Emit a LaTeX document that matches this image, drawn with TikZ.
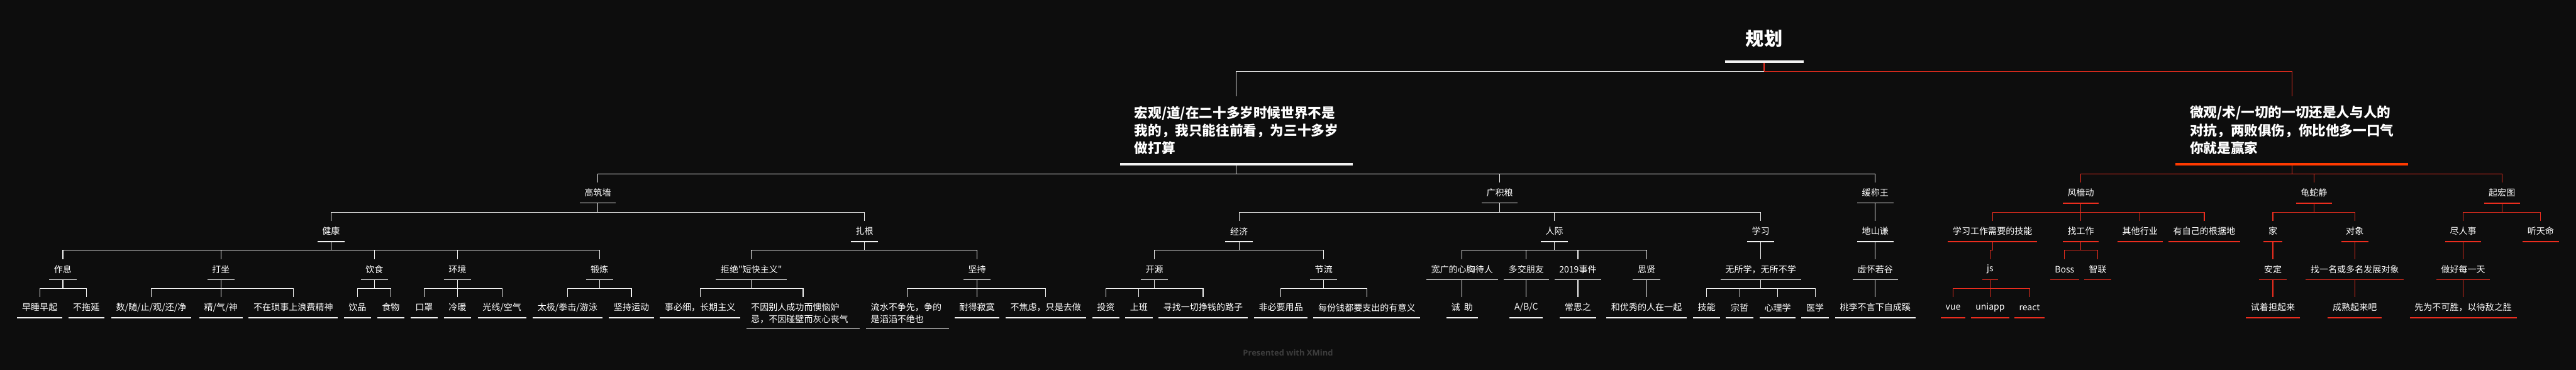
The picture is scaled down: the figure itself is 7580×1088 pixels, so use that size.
\documentclass[tikz,border=0pt]{standalone}
\usepackage{fontspec}
\newfontfamily\cjkf{Noto Sans CJK SC}
\newfontfamily\wmf{Open Sans}
\definecolor{bgc}{HTML}{0D0D0D}
\definecolor{wline}{HTML}{F2F2F2}
\definecolor{rline}{HTML}{EC2D1E}
\definecolor{rthick}{HTML}{FF3A00}
\definecolor{wmgray}{HTML}{3D3D3D}
\tikzset{
  topic/.style={font=\cjkf\fontsize{26pt}{35pt}\selectfont, text=white, inner xsep=14pt, inner ysep=0pt, minimum height=60pt, anchor=north},
  ttwo/.style={topic, minimum height=93pt, text width=#1, align=left},
  bigtopic/.style={font=\cjkf\bfseries\fontsize{40pt}{52pt}\selectfont, text=white, inner xsep=42pt, inner ysep=0pt, minimum height=200pt, text width=600pt, align=left, anchor=south},
  roottopic/.style={font=\cjkf\bfseries\fontsize{54pt}{60pt}\selectfont, text=white, inner sep=0pt, minimum width=231pt, minimum height=136pt},
  wc/.style={draw=wline, line width=2.2pt},
  rc/.style={draw=rline, line width=2.3pt},
  wu/.style={draw=wline, line width=2.4pt},
  ru/.style={draw=rline, line width=2.6pt},
  wthick/.style={draw=wline, line width=6pt},
  rthk/.style={draw=rthick, line width=6pt},
}
\begin{document}
\begin{tikzpicture}[x=1pt,y=-1pt]
\useasboundingbox (0,0) rectangle (7580,1088);
\fill[bgc] (0,0) rectangle (7580,1088);

% root and level 1
\node[roottopic] (root) at (5191,113) {规划};
\node[bigtopic] (M1) at (3638,483) {宏观/道/在二十多岁时候世界不是\\我的，我只能往前看，为三十多岁\\做打算};
\node[bigtopic] (R1) at (6744,483) {微观/术/一切的一切还是人与人的\\对抗，两败俱伤，你比他多一口气\\你就是赢家};

% level 2
\node[topic] (a1) at (1759,537) {高筑墙};
\node[topic] (a2) at (4413,537) {广积粮};
\node[topic] (a3) at (5518,537) {缓称王};
\node[topic] (e1) at (6123,537) {风樯动};
\node[topic] (e2) at (6809,537) {龟蛇静};
\node[topic] (e3) at (7362,537) {起宏图};

% level 3
\node[topic] (b1) at (974,650) {健康};
\node[topic] (b2) at (2544,650) {扎根};
\node[topic] (b3) at (3646,650) {经济};
\node[topic] (b4) at (4574,650) {人际};
\node[topic] (b5) at (5181,650) {学习};
\node[topic] (b6) at (5518,650) {地山谦};
\node[topic] (f1) at (5863,650) {学习工作需要的技能};
\node[topic] (f2) at (6123,650) {找工作};
\node[topic] (f3) at (6297,650) {其他行业};
\node[topic] (f4) at (6486,650) {有自己的根据地};
\node[topic] (f5) at (6688,650) {家};
\node[topic] (f6) at (6929,650) {对象};
\node[topic] (f7) at (7248,650) {尽人事};
\node[topic] (f8) at (7476,650) {听天命};

% level 4
\node[topic] (c1) at (185,762) {作息};
\node[topic] (c2) at (650,762) {打坐};
\node[topic] (c3) at (1102,762) {饮食};
\node[topic] (c4) at (1346,762) {环境};
\node[topic] (c5) at (1764,762) {锻炼};
\node[topic] (c6) at (2211,762) {拒绝"短快主义"};
\node[topic] (c7) at (2875,762) {坚持};
\node[topic] (c8) at (3397,762) {开源};
\node[topic] (c9) at (3895,762) {节流};
\node[topic] (c10) at (4302,762) {宽广的心胸待人};
\node[topic] (c11) at (4491,762) {多交朋友};
\node[topic] (c12) at (4643,762) {2019事件};
\node[topic] (c13) at (4845,762) {思贤};
\node[topic] (c14) at (5181,762) {无所学，无所不学};
\node[topic] (c15) at (5518,762) {虚怀若谷};
\node[topic] (g1) at (5856,762) {js};
\node[topic] (g2) at (6075,762) {Boss};
\node[topic] (g3) at (6173,762) {智联};
\node[topic] (g4) at (6688,762) {安定};
\node[topic] (g5) at (6929,762) {找一名或多名发展对象};
\node[topic] (g6) at (7248,762) {做好每一天};

% level 5
\node[topic] (d1) at (117,874) {早睡早起};
\node[topic] (d2) at (254,874) {不拖延};
\node[topic] (d3) at (445,874) {数/随/止/观/还/净};
\node[topic] (d4) at (650,874) {精/气/神};
\node[topic] (d5) at (863,874) {不在琐事上浪费精神};
\node[topic] (d6) at (1052,874) {饮品};
\node[topic] (d7) at (1150,874) {食物};
\node[topic] (d8) at (1248,874) {口罩};
\node[topic] (d9) at (1346,874) {冷暖};
\node[topic] (d10) at (1477,874) {光线/空气};
\node[topic] (d11) at (1670,874) {太极/拳击/游泳};
\node[topic] (d12) at (1858,874) {坚持运动};
\node[topic] (d13) at (2060,874) {事必细，长期主义};
\node[ttwo=306pt] (d14) at (2363,874) {不因别人成功而懊恼妒\\忌，不因碰壁而灰心丧气};
\node[ttwo=215pt] (d15) at (2670,874) {流水不争先，争的\\是滔滔不绝也};
\node[topic] (d16) at (2875,874) {耐得寂寞};
\node[topic] (d17) at (3077,874) {不焦虑，只是去做};
\node[topic] (d18) at (3254,874) {投资};
\node[topic] (d19) at (3351,874) {上班};
\node[topic] (d20) at (3540,874) {寻找一切挣钱的路子};
\node[topic] (d21) at (3769,874) {非必要用品};
\node[topic] (d22) at (4022,874) {每份钱都要支出的有意义};
\node[topic] (d23) at (4302,874) {诚~~助};
\node[topic] (d24) at (4491,874) {A/B/C};
\node[topic] (d25) at (4643,874) {常思之};
\node[topic] (d26) at (4845,874) {和优秀的人在一起};
\node[topic] (d27) at (5022,874) {技能};
\node[topic] (d28) at (5119,874) {宗哲};
\node[topic] (d29) at (5231,874) {心理学};
\node[topic] (d30) at (5341,874) {医学};
\node[topic] (d31) at (5518,874) {桃李不言下自成蹊};
\node[topic] (h1) at (5747,874) {vue};
\node[topic] (h2) at (5856,874) {uniapp};
\node[topic] (h3) at (5972,874) {react};
\node[topic] (h4) at (6688,874) {试着担起来};
\node[topic] (h5) at (6929,874) {成熟起来吧};
\node[topic] (h6) at (7248,874) {先为不可胜，以待敌之胜};

% watermark
\node[font=\wmf\bfseries\fontsize{24pt}{24pt}\selectfont, text=wmgray, inner sep=0pt] (wm) at (3790,1038) {Presented with XMind};

% root connectors
\coordinate (rj) at ([yshift=-29pt]root.south);
\draw[rc] (root.south) -- (rj);
\draw[wc] (rj) -| (M1.north);
\draw[rc] (rj) -| (R1.north);

% white connectors
\foreach \p/\c in {M1/a1,M1/a2,M1/a3,
  a1/b1,a1/b2,a2/b3,a2/b4,a2/b5,a3/b6,
  b1/c1,b1/c2,b1/c3,b1/c4,b1/c5,b2/c6,b2/c7,b3/c8,b3/c9,
  b4/c10,b4/c11,b4/c12,b4/c13,b5/c14,b6/c15,
  c1/d1,c1/d2,c2/d3,c2/d4,c2/d5,c3/d6,c3/d7,c4/d8,c4/d9,c4/d10,
  c5/d11,c5/d12,c6/d13,c6/d14,c7/d15,c7/d16,c7/d17,c8/d18,c8/d19,c8/d20,
  c9/d21,c9/d22,c10/d23,c11/d24,c12/d25,c13/d26,
  c14/d27,c14/d28,c14/d29,c14/d30,c15/d31}
  \draw[wc] (\p.south) |- ([yshift=26pt]\c.north) -- (\c.north);

% red connectors
\foreach \p/\c in {R1/e1,R1/e2,R1/e3,
  e1/f1,e1/f2,e1/f3,e1/f4,e2/f5,e2/f6,e3/f7,e3/f8,
  f1/g1,f2/g2,f2/g3,f5/g4,f6/g5,f7/g6,
  g1/h1,g1/h2,g1/h3,g4/h4,g5/h5,g6/h6}
  \draw[rc] (\p.south) |- ([yshift=26pt]\c.north) -- (\c.north);

% underlines
\draw[wthick] (root.south west) -- (root.south east);
\draw[wthick] (M1.south west) -- (M1.south east);
\draw[rthk] (R1.south west) -- (R1.south east);
\foreach \n in {a1,a2,a3,b1,b2,b3,b4,b5,b6,c1,c2,c3,c4,c5,c6,c7,c8,c9,c10,c11,c12,c13,c14,c15,
  d1,d2,d3,d4,d5,d6,d7,d8,d9,d10,d11,d12,d13,d14,d15,d16,d17,d18,d19,d20,d21,d22,d23,d24,d25,d26,d27,d28,d29,d30,d31}
  \draw[wu] (\n.south west) -- (\n.south east);
\foreach \n in {e1,e2,e3,f1,f2,f3,f4,f5,f6,f7,f8,g1,g2,g3,g4,g5,g6,h1,h2,h3,h4,h5,h6}
  \draw[ru] (\n.south west) -- (\n.south east);
\end{tikzpicture}
\end{document}
